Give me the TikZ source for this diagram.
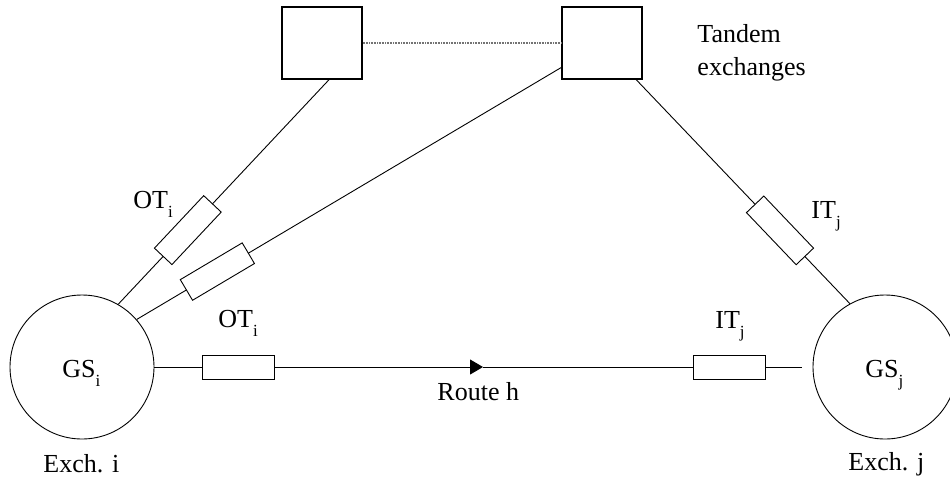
\documentclass[tikz,border=0pt]{standalone}
\usepackage{fontspec}
\setmainfont{Liberation Serif}
\usetikzlibrary{arrows.meta}
% lowered index used in the trunk and exchange names
\newcommand\lowsub[1]{\raisebox{-9pt}{\fontsize{17}{17}\selectfont #1}}
\begin{document}
\begin{tikzpicture}[x=1pt,y=-1pt,
  line width=0.9pt,
  every node/.style={font=\fontsize{26}{30}\selectfont},
  tandem/.style={draw, line width=1.2pt, minimum width=80pt, minimum height=72pt, inner sep=0pt},
  exch/.style={draw, circle, minimum size=144pt, inner sep=0pt},
  trunk/.style={draw, fill=white, minimum width=72pt, minimum height=24pt, inner sep=0pt},
  lbl/.style={anchor=base west, inner sep=0pt},
  linkline/.style={draw=black!55, line width=1.3pt, dash pattern=on 1pt off 0.6pt},
]
\useasboundingbox (0,0) rectangle (950,480);

% tandem exchanges
\node[tandem] (sq1) at (322,43) {};
\node[tandem] (sq2) at (602,43) {};
\draw[linkline] (sq1.east) -- (sq2.west);
\node[lbl] (tdm) at (697,42) {Tandem};
\node[lbl] (tdm2) at (697,75) {exchanges};

% local exchanges
\node[exch] (Ci) at (82,367) {};
\node[exch] (Cj) at (885,367) {};
\node[lbl] (gsi) at (62,377) {GS\lowsub{i}};
\node[lbl] (gsj) at (865,377) {GS\lowsub{j}};
\node[lbl] (exi) at (43,472) {Exch. i};
\node[lbl] (exj) at (848,470) {Exch. j};

% trunks via the tandem exchanges
\draw (Ci.60) -- node[trunk, sloped, pos=.33] (ota) {} (sq1.-79);
\draw (Ci.41.5) -- node[trunk, sloped, pos=.19] (otb) {} (sq2.211.7);
\draw (Cj.119.5) -- node[trunk, sloped, pos=.327] (itb) {} (sq2.-47);
\node[lbl] (otal) at (133,208) {OT\lowsub{i}};
\node[lbl] (itbl) at (811,218) {IT\lowsub{j}};

% direct route h
\node[trunk] (h1) at (238,367) {};
\node[trunk] (h2) at (729.5,367) {};
\coordinate (tip) at (483,367);
\coordinate (rend) at (802,367);
\draw (Ci.east) -- (h1.west);
\draw[-{Triangle[length=13pt,width=15pt]}] (h1.east) -- (tip);
\draw (tip) -- (h2.west);
\draw (h2.east) -- (rend);
\node[lbl] (h1l) at (218,327) {OT\lowsub{i}};
\node[lbl] (h2l) at (715,328) {IT\lowsub{j}};
\node[lbl] (rh) at (437,400) {Route h};
\end{tikzpicture}
\end{document}
